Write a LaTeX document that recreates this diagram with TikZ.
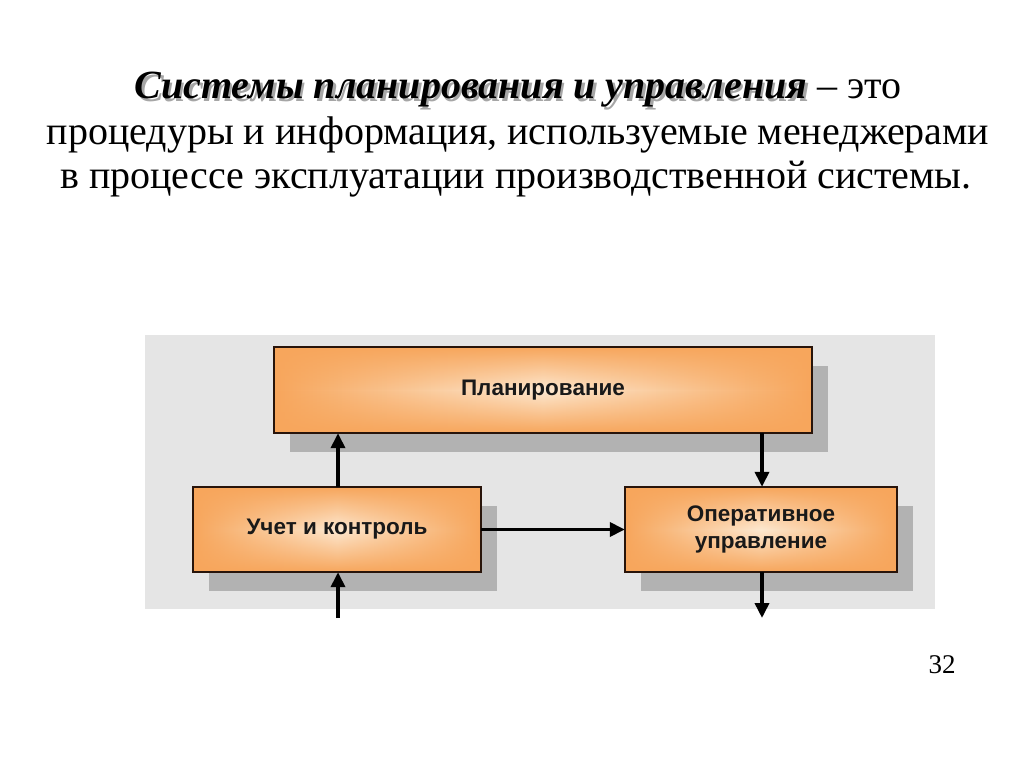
\documentclass[tikz,border=0pt]{standalone}
\usepackage{fontspec}
\setmainfont{Liberation Serif}
\newfontfamily\boxfont{Liberation Sans}
\usetikzlibrary{fadings,arrows.meta}
\definecolor{panelgray}{RGB}{229,229,229}
\definecolor{shadowgray}{RGB}{178,178,178}
\definecolor{boxorange}{RGB}{247,166,92}
\definecolor{boxlight}{RGB}{253,232,208}
\definecolor{boxedge}{RGB}{40,20,10}
\tikzfading[name=vmid, top color=transparent!0, bottom color=transparent!0, middle color=transparent!100]
\tikzset{
  shadowbox/.style={fill=shadowgray, draw=none},
  arr/.style={line width=3.6pt, -{Triangle[length=15pt,width=14pt]}, black},
  boxlabel/.style={font=\boxfont\bfseries\fontsize{22.5}{27}\selectfont, text=black!90, align=center},
  titletext/.style={font=\fontsize{40}{44}\selectfont, align=center}
}
\newcommand{\orangebox}[5]{%
  \fill[shadowbox] (#2+16,#3+19) rectangle (#4+16,#5+19);
  \fill[left color=boxorange, right color=boxorange, middle color=boxlight] (#2,#3) rectangle (#4,#5);
  \fill[boxorange, path fading=vmid] (#2,#3) rectangle (#4,#5);
  \draw[boxedge, line width=2.2pt] (#2,#3) rectangle (#4,#5);
  \node[inner sep=0pt, minimum width={#4-#2}, minimum height={#5-#3}] (#1) at ({(#2+#4)/2},{(#3+#5)/2}) {};
}
\newcommand{\headtext}{\textbf{\textit{Системы планирования и управления}}}
\begin{document}
\begin{tikzpicture}[x=1pt,y=-1pt]
\useasboundingbox (0,0) rectangle (1024,767);
\fill[white] (0,0) rectangle (1024,767);
% title
\node[titletext] (title) at (518,91) {\rlap{\hspace{2.5pt}\raisebox{-2.5pt}{\textcolor{black!35}{\headtext}}}\headtext{} – это};
\node[titletext] (title2) at (518,135) {процедуры и информация, используемые менеджерами};
\node[titletext] (title3) at (516,179) {в процессе эксплуатации производственной системы.};
% panel
\fill[panelgray] (145,335) rectangle (935,609);
% boxes
\orangebox{plan}{274}{347}{812}{433}
\orangebox{uchet}{193}{487}{481}{572}
\orangebox{oper}{625}{487}{897}{572}
\node[boxlabel] at (plan) {Планирование};
\node[boxlabel] at (uchet) {Учет и контроль};
\node[boxlabel] at (oper) {Оперативное\\управление};
% connectors
\coordinate (inp) at (338,618);
\coordinate (outp) at (762,618);
\draw[arr] (uchet.north -| inp) -- (plan.south -| inp);
\draw[arr] (plan.south -| outp) -- (oper.north -| outp);
\draw[arr] (uchet.east) -- (oper.west);
\draw[arr] (inp) -- (uchet.south -| inp);
\draw[arr] (oper.south -| outp) -- (outp);
% page number
\node[font=\fontsize{27}{30}\selectfont] (pagenum) at (942,665) {32};
\end{tikzpicture}
\end{document}
